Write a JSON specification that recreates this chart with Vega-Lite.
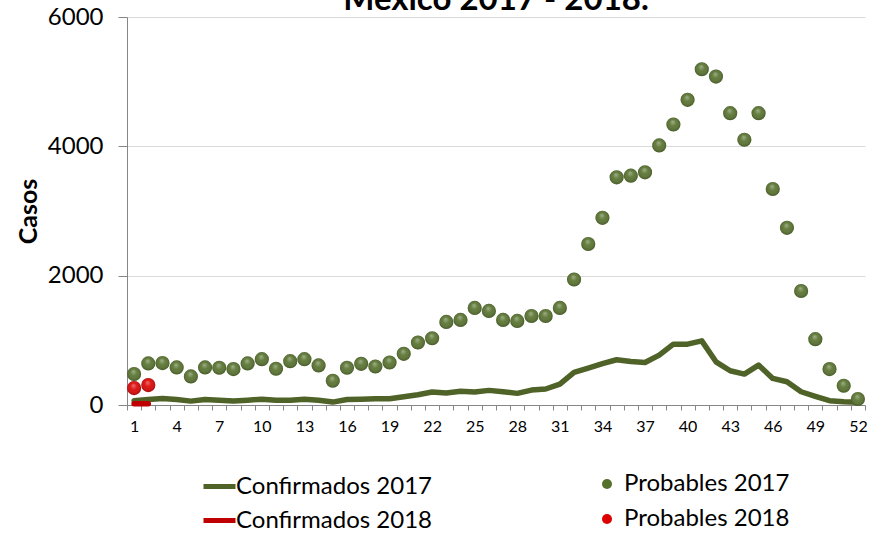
{
  "$schema": "https://vega.github.io/schema/vega-lite/v6.json",
  "width": 738,
  "height": 388,
  "autosize": {"type": "none"},
  "padding": {"left": 127, "top": 17, "right": 16, "bottom": 128},
  "background": "white",
  "title": {"text": "México 2017 - 2018.", "font": "Lato", "fontSize": 33, "fontWeight": "bold", "color": "#000000", "anchor": "middle", "frame": "group", "baseline": "alphabetic", "offset": -38},
  "config": {"view": {"stroke": null}, "font": "Lato"},
  "data": {"values": [
    {"semana": 1, "serie": "Confirmados 2017", "tipo": "Confirmados", "casos": 67},
    {"semana": 2, "serie": "Confirmados 2017", "tipo": "Confirmados", "casos": 85},
    {"semana": 3, "serie": "Confirmados 2017", "tipo": "Confirmados", "casos": 100},
    {"semana": 4, "serie": "Confirmados 2017", "tipo": "Confirmados", "casos": 85},
    {"semana": 5, "serie": "Confirmados 2017", "tipo": "Confirmados", "casos": 60},
    {"semana": 6, "serie": "Confirmados 2017", "tipo": "Confirmados", "casos": 85},
    {"semana": 7, "serie": "Confirmados 2017", "tipo": "Confirmados", "casos": 75},
    {"semana": 8, "serie": "Confirmados 2017", "tipo": "Confirmados", "casos": 62},
    {"semana": 9, "serie": "Confirmados 2017", "tipo": "Confirmados", "casos": 75},
    {"semana": 10, "serie": "Confirmados 2017", "tipo": "Confirmados", "casos": 90},
    {"semana": 11, "serie": "Confirmados 2017", "tipo": "Confirmados", "casos": 75},
    {"semana": 12, "serie": "Confirmados 2017", "tipo": "Confirmados", "casos": 75},
    {"semana": 13, "serie": "Confirmados 2017", "tipo": "Confirmados", "casos": 90},
    {"semana": 14, "serie": "Confirmados 2017", "tipo": "Confirmados", "casos": 72},
    {"semana": 15, "serie": "Confirmados 2017", "tipo": "Confirmados", "casos": 45},
    {"semana": 16, "serie": "Confirmados 2017", "tipo": "Confirmados", "casos": 85},
    {"semana": 17, "serie": "Confirmados 2017", "tipo": "Confirmados", "casos": 88},
    {"semana": 18, "serie": "Confirmados 2017", "tipo": "Confirmados", "casos": 95},
    {"semana": 19, "serie": "Confirmados 2017", "tipo": "Confirmados", "casos": 97},
    {"semana": 20, "serie": "Confirmados 2017", "tipo": "Confirmados", "casos": 128},
    {"semana": 21, "serie": "Confirmados 2017", "tipo": "Confirmados", "casos": 159},
    {"semana": 22, "serie": "Confirmados 2017", "tipo": "Confirmados", "casos": 200},
    {"semana": 23, "serie": "Confirmados 2017", "tipo": "Confirmados", "casos": 185},
    {"semana": 24, "serie": "Confirmados 2017", "tipo": "Confirmados", "casos": 211},
    {"semana": 25, "serie": "Confirmados 2017", "tipo": "Confirmados", "casos": 200},
    {"semana": 26, "serie": "Confirmados 2017", "tipo": "Confirmados", "casos": 226},
    {"semana": 27, "serie": "Confirmados 2017", "tipo": "Confirmados", "casos": 205},
    {"semana": 28, "serie": "Confirmados 2017", "tipo": "Confirmados", "casos": 180},
    {"semana": 29, "serie": "Confirmados 2017", "tipo": "Confirmados", "casos": 231},
    {"semana": 30, "serie": "Confirmados 2017", "tipo": "Confirmados", "casos": 247},
    {"semana": 31, "serie": "Confirmados 2017", "tipo": "Confirmados", "casos": 324},
    {"semana": 32, "serie": "Confirmados 2017", "tipo": "Confirmados", "casos": 504},
    {"semana": 33, "serie": "Confirmados 2017", "tipo": "Confirmados", "casos": 570},
    {"semana": 34, "serie": "Confirmados 2017", "tipo": "Confirmados", "casos": 640},
    {"semana": 35, "serie": "Confirmados 2017", "tipo": "Confirmados", "casos": 700},
    {"semana": 36, "serie": "Confirmados 2017", "tipo": "Confirmados", "casos": 673},
    {"semana": 37, "serie": "Confirmados 2017", "tipo": "Confirmados", "casos": 658},
    {"semana": 38, "serie": "Confirmados 2017", "tipo": "Confirmados", "casos": 771},
    {"semana": 39, "serie": "Confirmados 2017", "tipo": "Confirmados", "casos": 941},
    {"semana": 40, "serie": "Confirmados 2017", "tipo": "Confirmados", "casos": 941},
    {"semana": 41, "serie": "Confirmados 2017", "tipo": "Confirmados", "casos": 992},
    {"semana": 42, "serie": "Confirmados 2017", "tipo": "Confirmados", "casos": 668},
    {"semana": 43, "serie": "Confirmados 2017", "tipo": "Confirmados", "casos": 529},
    {"semana": 44, "serie": "Confirmados 2017", "tipo": "Confirmados", "casos": 478},
    {"semana": 45, "serie": "Confirmados 2017", "tipo": "Confirmados", "casos": 617},
    {"semana": 46, "serie": "Confirmados 2017", "tipo": "Confirmados", "casos": 411},
    {"semana": 47, "serie": "Confirmados 2017", "tipo": "Confirmados", "casos": 360},
    {"semana": 48, "serie": "Confirmados 2017", "tipo": "Confirmados", "casos": 205},
    {"semana": 49, "serie": "Confirmados 2017", "tipo": "Confirmados", "casos": 134},
    {"semana": 50, "serie": "Confirmados 2017", "tipo": "Confirmados", "casos": 67},
    {"semana": 51, "serie": "Confirmados 2017", "tipo": "Confirmados", "casos": 51},
    {"semana": 52, "serie": "Confirmados 2017", "tipo": "Confirmados", "casos": 41},
    {"semana": 1, "serie": "Confirmados 2018", "tipo": "Confirmados", "casos": 20},
    {"semana": 2, "serie": "Confirmados 2018", "tipo": "Confirmados", "casos": 20},
    {"semana": 1, "serie": "Probables 2017", "tipo": "Probables", "casos": 478},
    {"semana": 2, "serie": "Probables 2017", "tipo": "Probables", "casos": 643},
    {"semana": 3, "serie": "Probables 2017", "tipo": "Probables", "casos": 648},
    {"semana": 4, "serie": "Probables 2017", "tipo": "Probables", "casos": 581},
    {"semana": 5, "serie": "Probables 2017", "tipo": "Probables", "casos": 442},
    {"semana": 6, "serie": "Probables 2017", "tipo": "Probables", "casos": 581},
    {"semana": 7, "serie": "Probables 2017", "tipo": "Probables", "casos": 576},
    {"semana": 8, "serie": "Probables 2017", "tipo": "Probables", "casos": 555},
    {"semana": 9, "serie": "Probables 2017", "tipo": "Probables", "casos": 643},
    {"semana": 10, "serie": "Probables 2017", "tipo": "Probables", "casos": 709},
    {"semana": 11, "serie": "Probables 2017", "tipo": "Probables", "casos": 560},
    {"semana": 12, "serie": "Probables 2017", "tipo": "Probables", "casos": 678},
    {"semana": 13, "serie": "Probables 2017", "tipo": "Probables", "casos": 709},
    {"semana": 14, "serie": "Probables 2017", "tipo": "Probables", "casos": 612},
    {"semana": 15, "serie": "Probables 2017", "tipo": "Probables", "casos": 375},
    {"semana": 16, "serie": "Probables 2017", "tipo": "Probables", "casos": 576},
    {"semana": 17, "serie": "Probables 2017", "tipo": "Probables", "casos": 637},
    {"semana": 18, "serie": "Probables 2017", "tipo": "Probables", "casos": 596},
    {"semana": 19, "serie": "Probables 2017", "tipo": "Probables", "casos": 658},
    {"semana": 20, "serie": "Probables 2017", "tipo": "Probables", "casos": 791},
    {"semana": 21, "serie": "Probables 2017", "tipo": "Probables", "casos": 966},
    {"semana": 22, "serie": "Probables 2017", "tipo": "Probables", "casos": 1033},
    {"semana": 23, "serie": "Probables 2017", "tipo": "Probables", "casos": 1285},
    {"semana": 24, "serie": "Probables 2017", "tipo": "Probables", "casos": 1316},
    {"semana": 25, "serie": "Probables 2017", "tipo": "Probables", "casos": 1501},
    {"semana": 26, "serie": "Probables 2017", "tipo": "Probables", "casos": 1455},
    {"semana": 27, "serie": "Probables 2017", "tipo": "Probables", "casos": 1316},
    {"semana": 28, "serie": "Probables 2017", "tipo": "Probables", "casos": 1300},
    {"semana": 29, "serie": "Probables 2017", "tipo": "Probables", "casos": 1377},
    {"semana": 30, "serie": "Probables 2017", "tipo": "Probables", "casos": 1377},
    {"semana": 31, "serie": "Probables 2017", "tipo": "Probables", "casos": 1501},
    {"semana": 32, "serie": "Probables 2017", "tipo": "Probables", "casos": 1940},
    {"semana": 33, "serie": "Probables 2017", "tipo": "Probables", "casos": 2490},
    {"semana": 34, "serie": "Probables 2017", "tipo": "Probables", "casos": 2894},
    {"semana": 35, "serie": "Probables 2017", "tipo": "Probables", "casos": 3521},
    {"semana": 36, "serie": "Probables 2017", "tipo": "Probables", "casos": 3547},
    {"semana": 37, "serie": "Probables 2017", "tipo": "Probables", "casos": 3598},
    {"semana": 38, "serie": "Probables 2017", "tipo": "Probables", "casos": 4014},
    {"semana": 39, "serie": "Probables 2017", "tipo": "Probables", "casos": 4338},
    {"semana": 40, "serie": "Probables 2017", "tipo": "Probables", "casos": 4719},
    {"semana": 41, "serie": "Probables 2017", "tipo": "Probables", "casos": 5192},
    {"semana": 42, "serie": "Probables 2017", "tipo": "Probables", "casos": 5078},
    {"semana": 43, "serie": "Probables 2017", "tipo": "Probables", "casos": 4513},
    {"semana": 44, "serie": "Probables 2017", "tipo": "Probables", "casos": 4102},
    {"semana": 45, "serie": "Probables 2017", "tipo": "Probables", "casos": 4513},
    {"semana": 46, "serie": "Probables 2017", "tipo": "Probables", "casos": 3341},
    {"semana": 47, "serie": "Probables 2017", "tipo": "Probables", "casos": 2740},
    {"semana": 48, "serie": "Probables 2017", "tipo": "Probables", "casos": 1763},
    {"semana": 49, "serie": "Probables 2017", "tipo": "Probables", "casos": 1018},
    {"semana": 50, "serie": "Probables 2017", "tipo": "Probables", "casos": 555},
    {"semana": 51, "serie": "Probables 2017", "tipo": "Probables", "casos": 298},
    {"semana": 52, "serie": "Probables 2017", "tipo": "Probables", "casos": 93},
    {"semana": 1, "serie": "Probables 2018", "tipo": "Probables", "casos": 262},
    {"semana": 2, "serie": "Probables 2018", "tipo": "Probables", "casos": 308}
  ]},
  "encoding": {
    "x": {"field": "semana", "type": "quantitative",
      "scale": {"domain": [0.5, 52.5], "nice": false, "zero": false},
      "axis": {"values": [0.5,1.5,2.5,3.5,4.5,5.5,6.5,7.5,8.5,9.5,10.5,11.5,12.5,13.5,14.5,15.5,16.5,17.5,18.5,19.5,20.5,21.5,22.5,23.5,24.5,25.5,26.5,27.5,28.5,29.5,30.5,31.5,32.5,33.5,34.5,35.5,36.5,37.5,38.5,39.5,40.5,41.5,42.5,43.5,44.5,45.5,46.5,47.5,48.5,49.5,50.5,51.5,52.5],
        "labelExpr": "((datum.value + 0.5) - 1) % 3 == 0 ? '' + (datum.value + 0.5) : ''",
        "labelOffset": 7.1, "tickSize": 5, "grid": false, "title": null,
        "labelFont": "Lato", "labelFontSize": 16, "labelColor": "#000000",
        "domainColor": "#868686", "tickColor": "#868686", "labelPadding": 8,
        "labelFlush": false, "labelOverlap": false, "labelBound": false}},
    "y": {"field": "casos", "type": "quantitative",
      "scale": {"domain": [0, 6000], "nice": false},
      "axis": {"values": [0, 2000, 4000, 6000], "format": "d", "title": "Casos",
        "titleFont": "Lato", "titleFontSize": 25, "titleFontWeight": "bold", "titleColor": "#000000", "titlePadding": 6,
        "labelFont": "Lato", "labelFontSize": 24, "labelColor": "#000000", "labelPadding": 15,
        "tickSize": 9, "gridColor": "#d9d9d9", "domainColor": "#868686", "tickColor": "#868686"}}
  },
  "layer": [
    {
      "transform": [{"filter": "datum.tipo == 'Confirmados'"}],
      "mark": {"type": "line", "strokeWidth": 5.5, "strokeJoin": "round", "strokeCap": "round"},
      "encoding": {
        "color": {"field": "serie", "type": "nominal",
          "scale": {"domain": ["Confirmados 2017", "Confirmados 2018"], "range": ["#4f6228", "#c00000"]},
          "legend": {"orient": "none", "legendX": 74, "legendY": 451, "title": null, "symbolType": "stroke",
            "symbolSize": 1024, "symbolStrokeWidth": 5, "labelFont": "Lato", "labelFontSize": 24, "labelColor": "#000000",
            "labelOffset": -2, "rowPadding": 3, "padding": 0, "labelLimit": 400}}
      }
    },
    {
      "transform": [{"filter": "datum.tipo == 'Probables'"}],
      "mark": {"type": "circle", "size": 200, "opacity": 1},
      "encoding": {
        "fill": {"field": "serie", "type": "nominal",
          "scale": {"domain": ["Probables 2017", "Probables 2018"], "range": ["#55702b", "#dc0000"]},
          "legend": {"orient": "none", "legendX": 468, "legendY": 455, "title": null, "symbolType": "circle",
            "symbolSize": 100, "symbolOpacity": 1, "labelFont": "Lato", "labelFontSize": 24, "labelColor": "#000000",
            "labelOffset": 5, "rowPadding": 11, "padding": 0, "labelLimit": 400}}
      }
    },
    {
      "transform": [{"filter": "datum.tipo == 'Probables'"}],
      "mark": {"type": "circle", "size": 200, "opacity": 1,
        "fill": {"gradient": "radial", "x1": 0.45, "y1": 0.3, "r1": 0, "x2": 0.5, "y2": 0.5, "r2": 0.55,
          "stops": [{"offset": 0, "color": "rgba(255,255,255,0.45)"}, {"offset": 0.45, "color": "rgba(255,255,255,0.08)"}, {"offset": 1, "color": "rgba(0,0,0,0.3)"}]}},
      "encoding": {}
    }
  ]
}
